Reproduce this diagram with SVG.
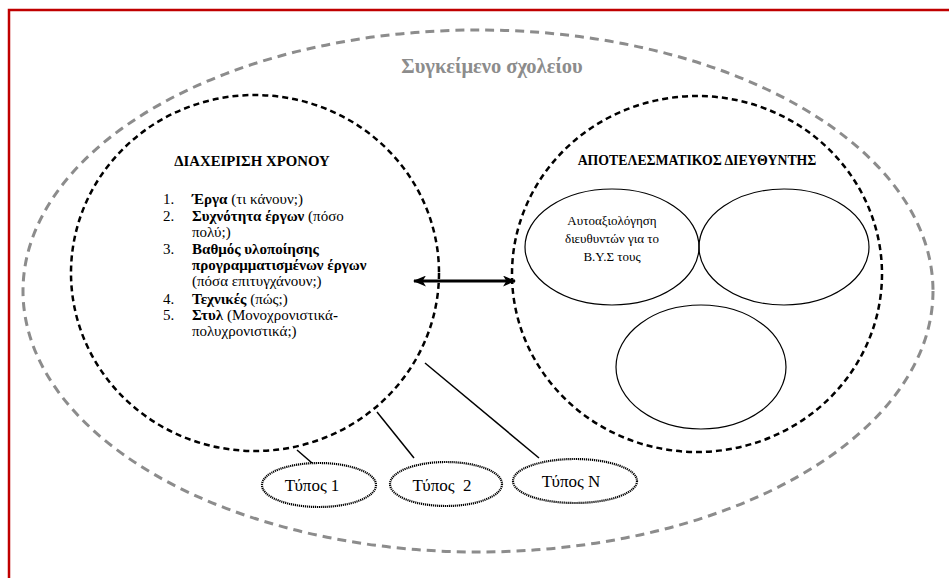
<svg xmlns="http://www.w3.org/2000/svg" width="949" height="578" viewBox="0 0 949 578">
<style>
  text { font-family: "Liberation Serif", "DejaVu Serif", serif; fill: #000; }
  .title { font-weight: bold; text-anchor: middle; }
  .t1 { font-size: 14.8px; }
  .t2 { font-size: 13.8px; }
  .item { font-size: 15px; }
  .b { font-weight: bold; }
  .ctx { font-size: 20.5px; font-weight: bold; fill: #8c8c8c; text-anchor: middle; }
  .small { font-size: 13px; text-anchor: middle; }
  .typ { font-size: 17px; text-anchor: middle; }
  .outer { fill: none; stroke: #8c8c8c; stroke-width: 3; stroke-dasharray: 9 6; }
  .circ { fill: none; stroke: #000; stroke-width: 2.5; stroke-dasharray: 6 4; }
  .ell { fill: none; stroke: #000; stroke-width: 1.2; }
  .dot { fill: #fff; stroke: #000; stroke-width: 2.2; stroke-dasharray: 1.2 0.8; }
  .link { stroke: #000; stroke-width: 1.5; fill: none; }
  .arrow { stroke: #000; stroke-width: 3; fill: none; }
</style>
<defs>
  <marker id="ah" viewBox="0 0 12 10" refX="11" refY="5" markerWidth="13" markerHeight="11" markerUnits="userSpaceOnUse" orient="auto-start-reverse">
    <path d="M0,0 L12,5 L0,10 L3,5 Z" fill="#000"/>
  </marker>
</defs>
<rect x="0" y="0" width="949" height="578" fill="#fff"/>
<path d="M9,578 L9,10 L949,10" fill="none" stroke="#c00000" stroke-width="2.5"/>

<g id="context">
  <ellipse class="outer" cx="478" cy="291" rx="455" ry="261"/>
  <text class="ctx" x="492" y="73">Συγκείμενο σχολείου</text>
</g>

<g id="time-management">
  <ellipse class="circ" cx="255" cy="273" rx="184" ry="178"/>
  <text class="title t1" x="252" y="166">ΔΙΑΧΕΙΡΙΣΗ ΧΡΟΝΟΥ</text>
  <text class="item" x="163" y="204">1.</text>
  <text class="item" x="192" y="204"><tspan class="b">Έργα</tspan> (τι κάνουν;)</text>
  <text class="item" x="163" y="221">2.</text>
  <text class="item" x="192" y="221"><tspan class="b">Συχνότητα έργων</tspan> (πόσο</text>
  <text class="item" x="192" y="237">πολύ;)</text>
  <text class="item" x="163" y="254">3.</text>
  <text class="item b" x="192" y="254">Βαθμός υλοποίησης</text>
  <text class="item b" x="192" y="270">προγραμματισμένων έργων</text>
  <text class="item" x="192" y="286">(πόσα επιτυγχάνουν;)</text>
  <text class="item" x="163" y="304">4.</text>
  <text class="item" x="192" y="304"><tspan class="b">Τεχνικές</tspan> (πώς;)</text>
  <text class="item" x="163" y="320">5.</text>
  <text class="item" x="192" y="320"><tspan class="b">Στυλ</tspan> (Μονοχρονιστικά<tspan class="b">-</tspan></text>
  <text class="item" x="192" y="336">πολυχρονιστικά;)</text>
</g>

<g id="effective-director">
  <ellipse class="circ" cx="697" cy="274" rx="185" ry="178"/>
  <text class="title t2" x="697" y="165">ΑΠΟΤΕΛΕΣΜΑΤΙΚΟΣ ΔΙΕΥΘΥΝΤΗΣ</text>
</g>

<g id="self-evaluation">
  <ellipse class="ell" cx="612" cy="247" rx="87" ry="58"/>
  <text class="small" x="612" y="225">Αυτοαξιολόγηση</text>
  <text class="small" x="612" y="243">διευθυντών για το</text>
  <text class="small" x="612" y="261">Β.Υ.Σ τους</text>
</g>
<g id="empty-1">
  <ellipse class="ell" cx="784" cy="247" rx="85" ry="58"/>
</g>
<g id="empty-2">
  <ellipse class="ell" cx="701" cy="367" rx="85" ry="62"/>
</g>

<g id="connectors">
  <line class="arrow" x1="414" y1="281" x2="515" y2="281" marker-start="url(#ah)" marker-end="url(#ah)"/>
  <line class="link" x1="297" y1="450" x2="312" y2="463"/>
  <line class="link" x1="377" y1="412" x2="414" y2="458"/>
  <line class="link" x1="425" y1="363" x2="539" y2="458"/>
</g>

<g id="type-1">
  <ellipse class="dot" cx="319" cy="485" rx="57" ry="22"/>
  <text class="typ" x="312" y="491">Τύπος 1</text>
</g>
<g id="type-2">
  <ellipse class="dot" cx="446" cy="484" rx="56" ry="22"/>
  <text class="typ" x="442" y="491" xml:space="preserve">Τύπος  2</text>
</g>
<g id="type-n">
  <ellipse class="dot" cx="575" cy="481" rx="62" ry="22"/>
  <text class="typ" x="571" y="487">Τύπος N</text>
</g>
</svg>
